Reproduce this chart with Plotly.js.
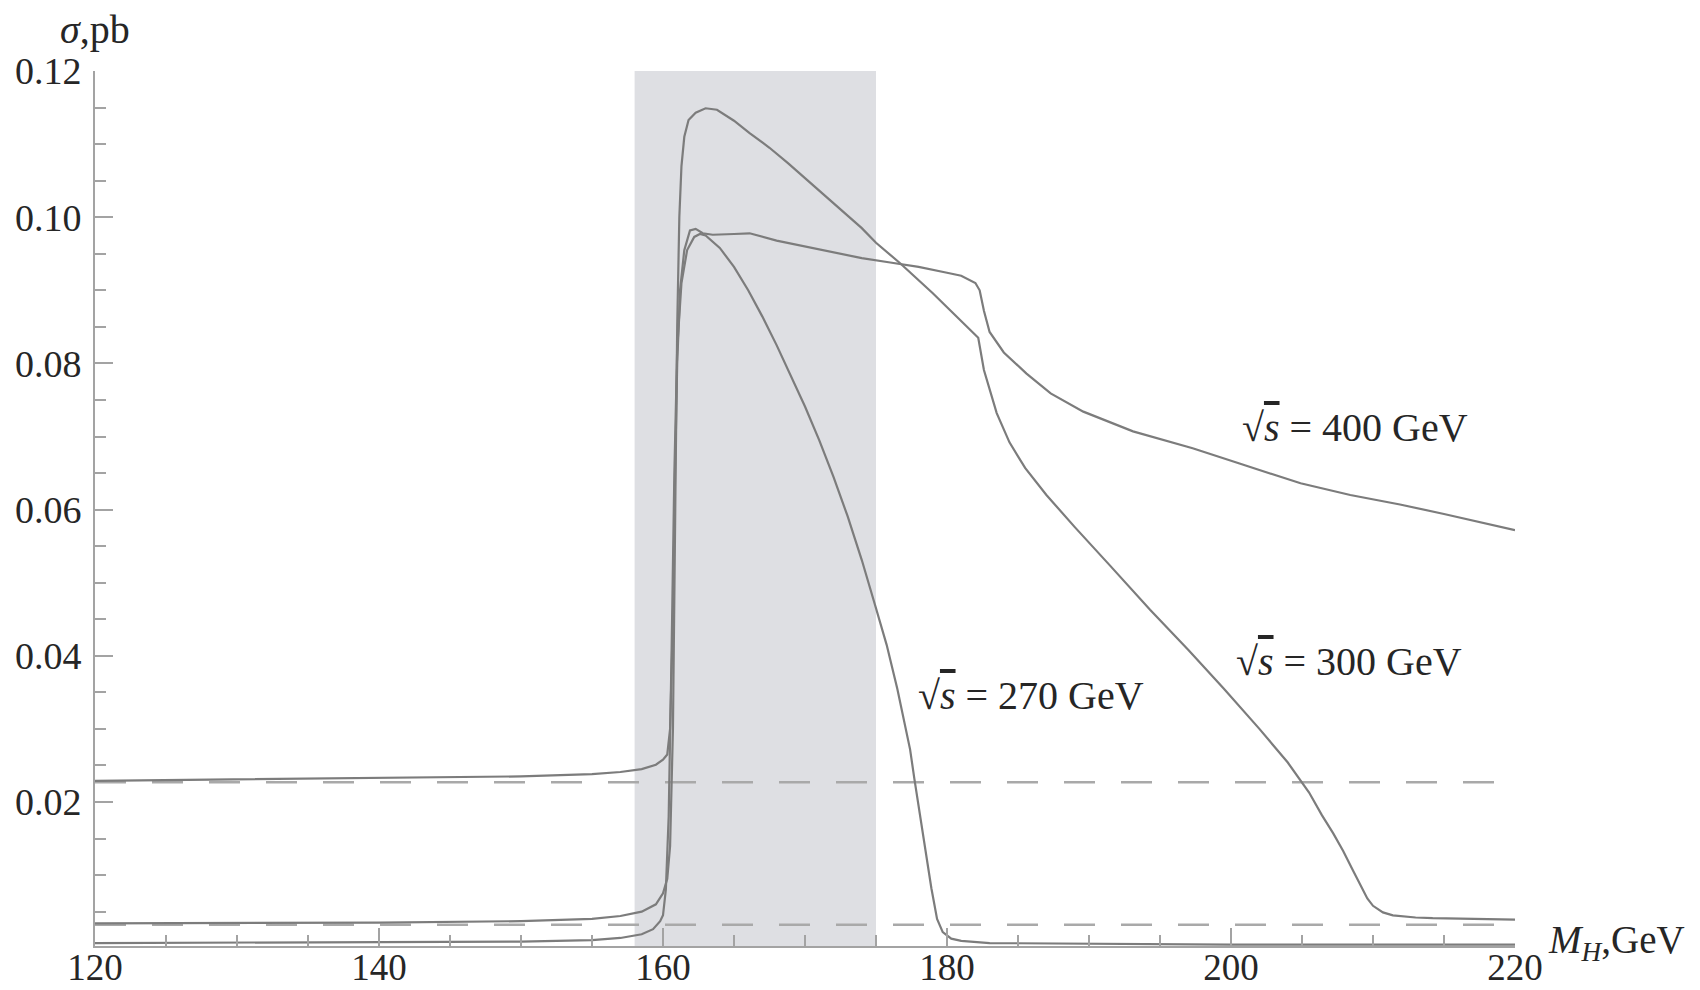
<!DOCTYPE html>
<html>
<head>
<meta charset="utf-8">
<script src="https://cdn.plot.ly/plotly-3.0.1.min.js"></script>
<style>
  html, body { margin: 0; padding: 0; background: #ffffff; }
  #chart { width: 1700px; height: 990px; }
</style>
</head>
<body>
<div id="chart"></div>
<script>
// ---- data ----
const mH400 = [120,130,140,150,155,157,158.5,159.5,160.0,160.3,160.5,160.7,160.85,161.0,161.2,161.5,161.9,162.3,162.8,163.5,165,166.1,168,170,172,174,176,178,180,181,182,182.3,182.6,183,184,185.6,187.3,189.6,193.1,197.3,200.6,204.9,208.4,211.9,215,218.7,220];
const sig400 = [0.0229,0.0231,0.0232,0.0235,0.0238,0.0241,0.0245,0.0251,0.0258,0.0265,0.030,0.045,0.065,0.080,0.090,0.0955,0.0982,0.0984,0.0978,0.0976,0.0977,0.0978,0.0968,0.0960,0.0953,0.0944,0.0938,0.0932,0.0924,0.0920,0.0910,0.0900,0.0872,0.0843,0.0815,0.0786,0.0759,0.0734,0.0707,0.0684,0.0663,0.0636,0.0620,0.0607,0.0594,0.0578,0.0572];

const mH300 = [120,140,150,155,157,158.5,159.5,160.0,160.3,160.5,160.7,160.85,161.0,161.15,161.3,161.5,161.8,162.3,163.0,163.8,165,166.1,167.5,168.8,170.5,172.5,174,175,176.7,179.0,181.4,182.2,182.6,183.5,184.4,185.5,187,189,191.5,194.3,197,199.5,202,204,205.5,206.4,207.2,207.9,208.6,209.1,209.6,210.0,210.7,211.4,213,214.2,217,220];
const sig300 = [0.0034,0.0035,0.0037,0.0040,0.0044,0.0050,0.0060,0.0075,0.0095,0.014,0.030,0.060,0.085,0.100,0.107,0.111,0.1133,0.1143,0.1149,0.1147,0.1132,0.1115,0.1095,0.1074,0.1045,0.1010,0.0985,0.0965,0.0937,0.0896,0.0850,0.0835,0.0791,0.0732,0.0692,0.0657,0.0620,0.0576,0.0523,0.0463,0.0408,0.0355,0.0300,0.0254,0.0213,0.0182,0.0157,0.0133,0.0106,0.0086,0.0068,0.0058,0.0049,0.0045,0.0042,0.0041,0.0040,0.0039];

const mH270 = [120,140,150,155,157,158.5,159.3,159.8,160.0,160.2,160.4,160.6,160.8,161.0,161.3,161.7,162.2,162.6,163,164,165,166,167,168,169,170,171,172,173,174,175,175.75,176.5,177.0,177.4,177.7,178.1,178.5,178.9,179.3,179.7,180.3,181,183,190,200,210,220];
const sig270 = [0.0007,0.0008,0.0009,0.0011,0.0014,0.0019,0.0026,0.0037,0.0045,0.0080,0.018,0.040,0.065,0.082,0.091,0.0955,0.0973,0.0977,0.0975,0.0958,0.0932,0.0900,0.0864,0.0825,0.0784,0.0741,0.0695,0.0645,0.0591,0.0531,0.0465,0.0415,0.0355,0.0310,0.0272,0.0232,0.0180,0.0134,0.0082,0.0040,0.0022,0.0013,0.0010,0.0007,0.0006,0.0005,0.0005,0.0005];

const bgLevels = [0.0227, 0.0032];     // dashed reference levels
const bgRange = [120, 220];
const bandRange = [158, 175];          // shaded M_H window
const xTickVals = [120, 140, 160, 180, 200, 220];
const yTickVals = [0.02, 0.04, 0.06, 0.08, 0.10, 0.12];
const yTickText = ['0.02', '0.04', '0.06', '0.08', '0.10', '0.12'];
const seriesLabels = ['400', '300', '270'];

// ---- styling ----
const FONT = 'Liberation Serif, Times New Roman, serif';
const LINE = '#7c7c7c';
const AXIS = '#a3a3a3';
const TXT = '#262626';
const yMin = 0.0003, yMax = 0.12;

const traces = [];
bgLevels.forEach(v => {
  traces.push({
    x: bgRange, y: [v, v], mode: 'lines', hoverinfo: 'skip',
    line: { color: '#a9a9a9', width: 2.6, dash: '31px,26px' }
  });
});
[[mH400, sig400], [mH300, sig300], [mH270, sig270]].forEach(([xs, ys]) => {
  traces.push({ x: xs, y: ys, mode: 'lines', line: { color: LINE, width: 2.2 } });
});

function sqrtLabel(v) {
  return '√<span style="text-decoration:overline"><i>s</i></span> = ' + v + ' GeV';
}

const layout = {
  width: 1700, height: 990,
  margin: { l: 95, r: 185, t: 71, b: 44, pad: 0 },
  paper_bgcolor: '#ffffff', plot_bgcolor: '#ffffff',
  showlegend: false,
  font: { family: FONT, size: 37, color: TXT },
  xaxis: {
    range: [120, 220], showgrid: false, zeroline: false,
    showline: true, linecolor: AXIS, linewidth: 2,
    ticks: 'inside', ticklen: 18, tickwidth: 2, tickcolor: AXIS,
    tickvals: xTickVals, ticktext: xTickVals.map(String),
    tickfont: { family: FONT, size: 37, color: TXT },
    ticklabelstandoff: -12,
    minor: { ticks: 'inside', ticklen: 11, tickwidth: 2, tickcolor: AXIS, dtick: 5, tick0: 120, showgrid: false }
  },
  yaxis: {
    range: [yMin, yMax], showgrid: false, zeroline: false,
    showline: true, linecolor: AXIS, linewidth: 2,
    ticks: 'inside', ticklen: 18, tickwidth: 2, tickcolor: AXIS,
    tickvals: yTickVals, ticktext: yTickText,
    tickfont: { family: FONT, size: 38, color: TXT },
    ticklabelstandoff: 4,
    minor: { ticks: 'inside', ticklen: 11, tickwidth: 2, tickcolor: AXIS, dtick: 0.005, tick0: 0, showgrid: false }
  },
  shapes: [{
    type: 'rect', xref: 'x', yref: 'y', layer: 'below',
    x0: bandRange[0], x1: bandRange[1], y0: yMin, y1: yMax,
    fillcolor: 'rgb(222,223,227)', line: { width: 0 }
  }],
  annotations: [
    { xref: 'x', yref: 'y', x: 208.7, y: 0.0712, text: sqrtLabel(seriesLabels[0]), showarrow: false,
      font: { family: FONT, size: 40, color: TXT } },
    { xref: 'x', yref: 'y', x: 208.3, y: 0.0392, text: sqrtLabel(seriesLabels[1]), showarrow: false,
      font: { family: FONT, size: 40, color: TXT } },
    { xref: 'x', yref: 'y', x: 185.9, y: 0.0346, text: sqrtLabel(seriesLabels[2]), showarrow: false,
      font: { family: FONT, size: 40, color: TXT } },
    { xref: 'paper', yref: 'paper', x: 0.0, y: 1.0, yshift: 42, xanchor: 'center', yanchor: 'middle',
      text: '<i>σ</i>,pb', showarrow: false, font: { family: FONT, size: 40, color: TXT } },
    { xref: 'paper', yref: 'paper', x: 1.0, xshift: 101, y: 0, yshift: 4, xanchor: 'center', yanchor: 'middle',
      text: '<i>M<sub>H</sub></i>,GeV', showarrow: false, font: { family: FONT, size: 39, color: TXT } }
  ]
};

Plotly.newPlot('chart', traces, layout, { displayModeBar: false, staticPlot: true });
</script>
</body>
</html>
